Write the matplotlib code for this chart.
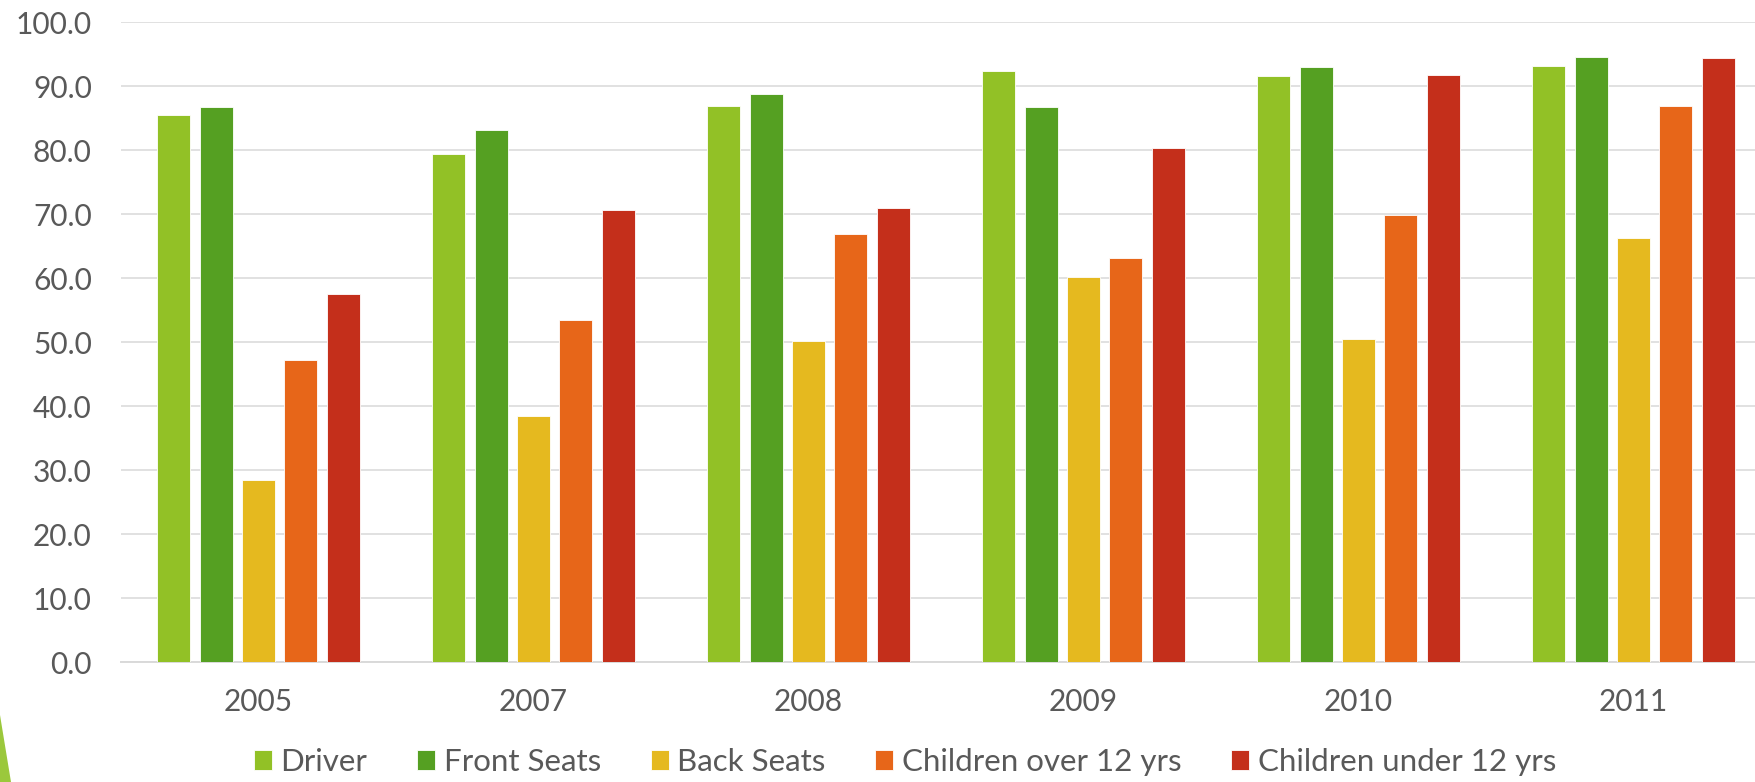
import matplotlib
matplotlib.use('Agg')
import matplotlib.pyplot as plt
from matplotlib.patches import Polygon
import numpy as np

# values (percent)
years = ['2005', '2007', '2008', '2009', '2010', '2011']
driver = [85.5, 79.3, 86.8, 92.3, 91.6, 93.1]
front_seats = [86.7, 83.1, 88.7, 86.7, 92.9, 94.5]
back_seats = [28.4, 38.4, 50.1, 60.2, 50.4, 66.2]
children_over_12 = [47.2, 53.4, 66.8, 63.2, 69.8, 86.8]
children_under_12 = [57.5, 70.6, 70.9, 80.3, 91.7, 94.4]

series = {
    'Driver': driver,
    'Front Seats': front_seats,
    'Back Seats': back_seats,
    'Children over 12 yrs': children_over_12,
    'Children under 12 yrs': children_under_12,
}
colors = ['#92C126', '#55A022', '#E5B91F', '#E76619', '#C42F1B']

text_color = '#595959'
grid_color = '#D9D9D9'
plt.rcParams['font.family'] = ['Lato', 'DejaVu Sans']

W, H = 1755, 782
fig = plt.figure(figsize=(W / 100, H / 100), dpi=100)
fig.patch.set_facecolor('white')

# plot area in pixels: left 121, right at the figure edge, zero line at 662, 100 line at 22
ax = fig.add_axes([121 / W, (H - 662) / H, (W - 121) / W, 640 / H])

x = np.arange(len(years))
step = 0.154
width = 0.12
for i, (label, vals) in enumerate(series.items()):
    ax.bar(x + (i - 2) * step, vals, width=width, color=colors[i],
           edgecolor='white', linewidth=0.6, label=label, zorder=3)

ax.set_ylim(0, 100)
ax.set_xlim(-0.5, -0.5 + (W - 121) / 275)
ax.set_yticks(np.arange(0, 101, 10))
ax.set_yticklabels([f'{v:.1f}' for v in np.arange(0, 101, 10)])
ax.set_xticks(x)
ax.set_xticklabels(years)

ax.yaxis.grid(True, color=grid_color, linewidth=1.1, zorder=0)
ax.set_axisbelow(True)
for side in ['top', 'right', 'left']:
    ax.spines[side].set_visible(False)
ax.spines['bottom'].set_color(grid_color)
ax.spines['bottom'].set_linewidth(1.4)

ax.tick_params(axis='y', length=0, pad=21, labelsize=21.5, labelcolor=text_color)
ax.tick_params(axis='x', length=0, pad=19, labelsize=21.5, labelcolor=text_color)

leg = ax.legend(loc='center', bbox_to_anchor=(905 / W, (H - 762) / H),
                bbox_transform=fig.transFigure, ncol=5, frameon=False,
                fontsize=22.5, handlelength=0.57, handleheight=0.57,
                handletextpad=0.27, columnspacing=1.6, borderaxespad=0)
for t in leg.get_texts():
    t.set_color(text_color)

# green slide decoration at bottom-left corner (display pixels, origin bottom-left)
fig.patches.append(Polygon([[0, H - 715], [0, 0], [11, 0]], closed=True,
                           transform=None, facecolor='#9BC83C',
                           edgecolor='none'))

fig.savefig('out.png', dpi=100)
